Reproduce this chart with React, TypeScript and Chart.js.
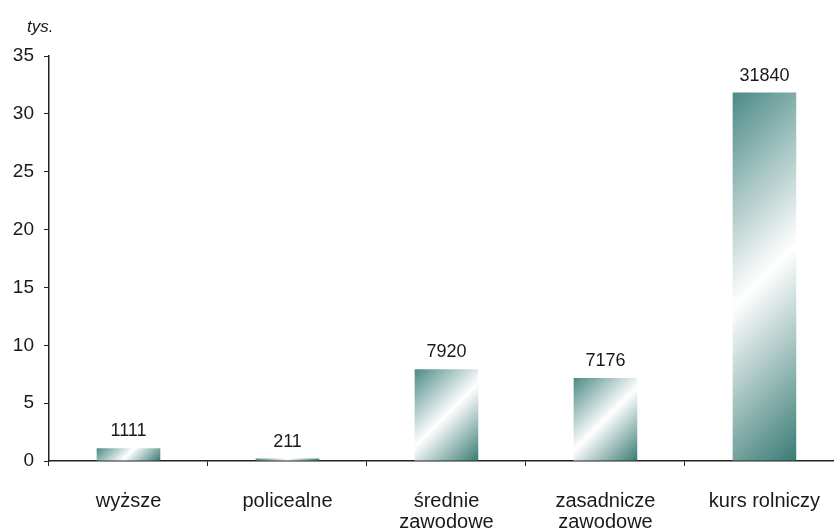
import React, { useEffect, useRef } from "react";
import { Chart, registerables } from "chart.js";

Chart.register(...registerables);

const categories: (string | string[])[] = [
  "wyższe",
  "policealne",
  ["średnie", "zawodowe"],
  ["zasadnicze", "zawodowe"],
  "kurs rolniczy",
];
const counts = [1111, 211, 7920, 7176, 31840];
const valuesThousands = counts.map((v) => v / 1000);
const yTicks = [0, 5, 10, 15, 20, 25, 30, 35];
const unitLabel = "tys.";

const FONT = "'Liberation Sans', Arial, sans-serif";

const gradientPlugin = {
  id: "diagGradient",
  beforeDatasetsDraw(chart: any) {
    const ctx = chart.ctx;
    const meta = chart.getDatasetMeta(0);
    meta.data.forEach((bar: any) => {
      const { x, y, base, width } = bar.getProps(["x", "y", "base", "width"], true);
      const left = x - width / 2;
      const top = Math.min(y, base);
      const h = Math.abs(base - y);
      const d = (width + h) / 2;
      const g = ctx.createLinearGradient(left, top, left + d, top + d);
      g.addColorStop(0, "#4b8a85");
      g.addColorStop(0.5, "#ffffff");
      g.addColorStop(1, "#3a7b74");
      bar.options = Object.assign({}, bar.options, { backgroundColor: g });
    });
  },
};

const labelsPlugin = {
  id: "valueLabels",
  afterDatasetsDraw(chart: any) {
    const ctx = chart.ctx;
    const meta = chart.getDatasetMeta(0);
    ctx.save();
    ctx.font = `18px ${FONT}`;
    ctx.fillStyle = "#1a1a1a";
    ctx.textAlign = "center";
    ctx.textBaseline = "alphabetic";
    meta.data.forEach((bar: any, i: number) => {
      const { x, y } = bar.getProps(["x", "y"], true);
      ctx.fillText(String(counts[i]), x, y - 12);
    });
    ctx.font = `italic 17px ${FONT}`;
    ctx.textAlign = "left";
    ctx.fillText(unitLabel, 27, 32);
    ctx.restore();
  },
};

export default function App() {
  const ref = useRef<HTMLCanvasElement>(null);
  useEffect(() => {
    const canvas = ref.current!;
    const chart = new Chart(canvas, {
      type: "bar",
      data: {
        labels: categories,
        datasets: [
          {
            data: valuesThousands,
            backgroundColor: (c: any) => "#3a7b74",
            borderWidth: 0,
            barPercentage: 0.4,
            categoryPercentage: 1,
          },
        ],
      },
      options: {
        responsive: false,
        animation: false,
        layout: { padding: { top: 56, left: 0, right: 0, bottom: 0 } },
        plugins: { legend: { display: false }, tooltip: { enabled: false } },
        scales: {
          x: {
            afterFit(scale: any) {
              scale.height = 71;
            },
            border: { display: true, color: "#222", width: 1.5 },
            grid: {
              display: true,
              drawOnChartArea: false,
              drawTicks: true,
              tickLength: 5,
              color: "#222",
              offset: true,
            },
            ticks: {
              color: "#1a1a1a",
              padding: 25,
              font: { family: FONT, size: 20, lineHeight: 1.05 },
              maxRotation: 0,
              autoSkip: false,
            },
          },
          y: {
            min: 0,
            max: 35,
            afterFit(scale: any) {
              scale.width = 49;
            },
            afterBuildTicks(scale: any) {
              scale.ticks = yTicks.map((v) => ({ value: v }));
            },
            border: { display: true, color: "#222", width: 1.5 },
            grid: {
              display: true,
              drawOnChartArea: false,
              drawTicks: true,
              tickLength: 5,
              color: "#222",
            },
            ticks: {
              color: "#1a1a1a",
              padding: 10,
              font: { family: FONT, size: 19 },
            },
          },
        },
      },
      plugins: [gradientPlugin, labelsPlugin],
    });
    return () => chart.destroy();
  }, []);
  return (
    <div
      style={{
        position: "absolute",
        left: 0,
        top: 0,
        width: 834,
        height: 532,
        overflow: "hidden",
        background: "#fff",
      }}
    >
      <canvas ref={ref} width={845} height={532} style={{ display: "block" }} />
    </div>
  );
}
